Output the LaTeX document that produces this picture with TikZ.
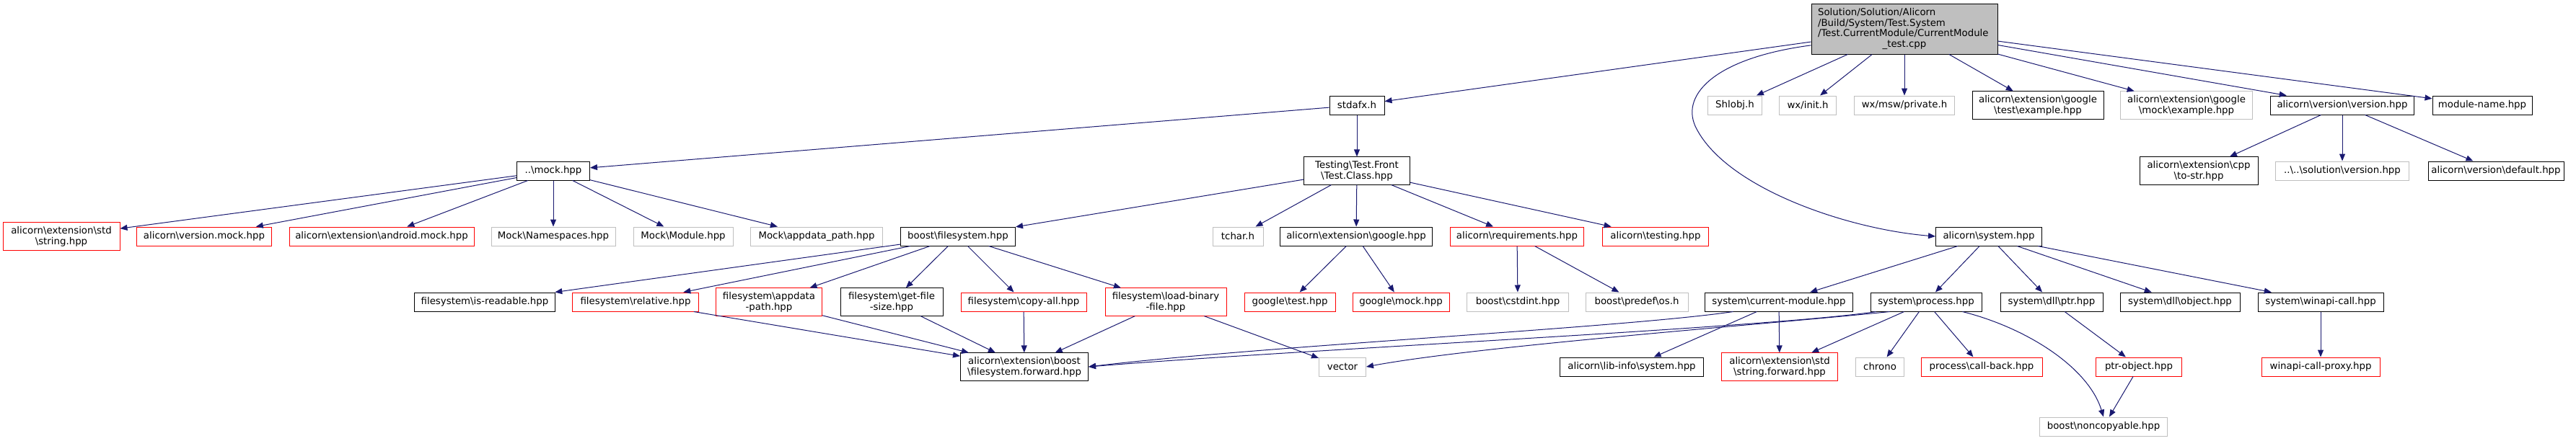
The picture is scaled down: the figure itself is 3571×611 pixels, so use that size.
\documentclass[tikz,border=0pt]{standalone}
\usepackage{fontspec}
\setmainfont{DejaVu Sans}
\usepackage{xcolor}
\usepackage{tikz}
\usetikzlibrary{arrows.meta}
\definecolor{dxblue}{HTML}{191970}
\definecolor{dxgray}{HTML}{BFBFBF}
\newcommand{\dbs}{\textbackslash}

\begin{document}
\begin{tikzpicture}[x=0.75pt,y=-0.75pt]
\tikzset{
  fb/.style={rectangle,draw=black,fill=white,line width=0.75pt,inner xsep=2pt,inner ysep=4pt,minimum height=19.5pt,align=center,font=\fontsize{10pt}{11pt}\selectfont},
  gb/.style={fb,draw=dxgray},
  rb/.style={fb,draw=red},
  bw/.style={minimum width=#1*0.75pt},
  ar/.style={-{Triangle[length=7.5pt,width=6pt]},line width=0.75pt,draw=dxblue}
}
\useasboundingbox (0,0) rectangle (3571,611);
% top file
\node[fb,fill=dxgray,bw=258,minimum height=52.5pt,text width=180pt,align=left] (root) at (2640,40) {Solution/Solution/Alicorn\\/Build/System/Test.System\\/Test.CurrentModule/CurrentModule\\\hspace*{\fill}\_test.cpp\hspace*{\fill}\null};
% rank 1
\node[fb,bw=76] (stdafx) at (1881,146) {stdafx.h};
\node[gb,bw=75] (shlobj) at (2405,146) {Shlobj.h};
\node[gb,bw=79] (wxinit) at (2506,146) {wx/init.h};
\node[gb,bw=139] (wxpriv) at (2640,146) {wx/msw/private.h};
\node[fb,bw=182] (gtex) at (2825,146) {alicorn\dbs{}extension\dbs{}google\\\dbs{}test\dbs{}example.hpp};
\node[gb,bw=183] (gmex) at (3031,146) {alicorn\dbs{}extension\dbs{}google\\\dbs{}mock\dbs{}example.hpp};
\node[fb,bw=199] (verh) at (3247,146) {alicorn\dbs{}version\dbs{}version.hpp};
\node[fb,bw=138] (modname) at (3441,146) {module-name.hpp};
% rank 2
\node[fb,bw=101] (mock) at (767,237) {..\dbs{}mock.hpp};
\node[fb,bw=147] (tclass) at (1881,237) {Testing\dbs{}Test.Front\\\dbs{}Test.Class.hpp};
\node[fb,bw=164] (tostr) at (3048,237) {alicorn\dbs{}extension\dbs{}cpp\\\dbs{}to-str.hpp};
\node[gb,bw=185] (solver) at (3247,237) {..\dbs{}..\dbs{}solution\dbs{}version.hpp};
\node[fb,bw=188] (vdef) at (3460,237) {alicorn\dbs{}version\dbs{}default.hpp};
% rank 3
\node[rb,bw=162] (string) at (85,328) {alicorn\dbs{}extension\dbs{}std\\\dbs{}string.hpp};
\node[rb,bw=187] (vmock) at (283,328) {alicorn\dbs{}version.mock.hpp};
\node[rb,bw=256] (amock) at (529,328) {alicorn\dbs{}extension\dbs{}android.mock.hpp};
\node[gb,bw=172] (mns) at (767,328) {Mock\dbs{}Namespaces.hpp};
\node[gb,bw=138] (mmod) at (947,328) {Mock\dbs{}Module.hpp};
\node[gb,bw=183] (mapp) at (1132,328) {Mock\dbs{}appdata\_path.hpp};
\node[fb,bw=159] (bfs) at (1328,328) {boost\dbs{}filesystem.hpp};
\node[gb,bw=70] (tchar) at (1716,328) {tchar.h};
\node[fb,bw=211] (agoogle) at (1880,328) {alicorn\dbs{}extension\dbs{}google.hpp};
\node[rb,bw=185] (areq) at (2103,328) {alicorn\dbs{}requirements.hpp};
\node[rb,bw=147] (atest) at (2295,328) {alicorn\dbs{}testing.hpp};
\node[fb,bw=147] (asys) at (2757,328) {alicorn\dbs{}system.hpp};
% rank 4
\node[fb,bw=195] (isread) at (672,419) {filesystem\dbs{}is-readable.hpp};
\node[rb,bw=175] (rel) at (881,419) {filesystem\dbs{}relative.hpp};
\node[rb,bw=147] (appd) at (1066,419) {filesystem\dbs{}appdata\\-path.hpp};
\node[fb,bw=142] (gfs) at (1236,419) {filesystem\dbs{}get-file\\-size.hpp};
\node[rb,bw=174] (copy) at (1419,419) {filesystem\dbs{}copy-all.hpp};
\node[rb,bw=168] (lbf) at (1616,419) {filesystem\dbs{}load-binary\\-file.hpp};
\node[rb,bw=126] (gtest) at (1788,419) {google\dbs{}test.hpp};
\node[rb,bw=134] (gmock) at (1942,419) {google\dbs{}mock.hpp};
\node[gb,bw=141] (cstd) at (2104,419) {boost\dbs{}cstdint.hpp};
\node[gb,bw=142] (pos) at (2269,419) {boost\dbs{}predef\dbs{}os.h};
\node[fb,bw=205] (cmod) at (2466,419) {system\dbs{}current-module.hpp};
\node[fb,bw=154] (proc) at (2670,419) {system\dbs{}process.hpp};
\node[fb,bw=142] (dptr) at (2844,419) {system\dbs{}dll\dbs{}ptr.hpp};
\node[fb,bw=166] (dobj) at (3022,419) {system\dbs{}dll\dbs{}object.hpp};
\node[fb,bw=174] (wcall) at (3217,419) {system\dbs{}winapi-call.hpp};
% rank 5
\node[fb,bw=177] (fsfwd) at (1420,509) {alicorn\dbs{}extension\dbs{}boost\\\dbs{}filesystem.forward.hpp};
\node[gb,bw=65] (vec) at (1861,509) {vector};
\node[fb,bw=199] (libinfo) at (2262,509) {alicorn\dbs{}lib-info\dbs{}system.hpp};
\node[rb,bw=161] (strfwd) at (2467,509) {alicorn\dbs{}extension\dbs{}std\\\dbs{}string.forward.hpp};
\node[gb,bw=67] (chrono) at (2606,509) {chrono};
\node[rb,bw=168] (cback) at (2747,509) {process\dbs{}call-back.hpp};
\node[rb,bw=119] (ptrobj) at (2965,509) {ptr-object.hpp};
\node[rb,bw=164] (wproxy) at (3217,509) {winapi-call-proxy.hpp};
% rank 6
\node[gb,bw=177] (noncp) at (2916,592) {boost\dbs{}noncopyable.hpp};
% straight includes
\foreach \a/\b in {root/stdafx,root/shlobj,root/wxinit,root/wxpriv,root/gtex,root/gmex,root/verh,root/modname,
  stdafx/mock,stdafx/tclass,verh/tostr,verh/solver,verh/vdef,
  mock/string,mock/vmock,mock/amock,mock/mns,mock/mmod,mock/mapp,
  tclass/bfs,tclass/tchar,tclass/agoogle,tclass/areq,tclass/atest,
  bfs/isread,bfs/rel,bfs/appd,bfs/gfs,bfs/copy,bfs/lbf,
  agoogle/gtest,agoogle/gmock,areq/cstd,areq/pos,
  asys/cmod,asys/proc,asys/dptr,asys/dobj,asys/wcall,
  rel/fsfwd,appd/fsfwd,gfs/fsfwd,copy/fsfwd,lbf/fsfwd,lbf/vec,
  cmod/libinfo,cmod/strfwd,proc/strfwd,proc/chrono,proc/cback,
  dptr/ptrobj,ptrobj/noncp,wcall/wproxy}{\draw[ar] (\a)--(\b);}
% curved includes
\draw[ar] (root.190) .. controls (2380,80) and (2330,130) .. (2350,175) .. controls (2390,260) and (2560,318) .. (asys.west);
\draw[ar] (cmod.192) .. controls (2250,455) and (1750,480) .. (fsfwd.east);
\draw[ar] (proc.191) .. controls (2450,455) and (1800,485) .. (fsfwd.east);
\draw[ar] (proc.195) .. controls (2450,450) and (2050,480) .. (vec.east);
\draw[ar] (proc.345) .. controls (2810,455) and (2895,510) .. (noncp.north);
\end{tikzpicture}
\end{document}
